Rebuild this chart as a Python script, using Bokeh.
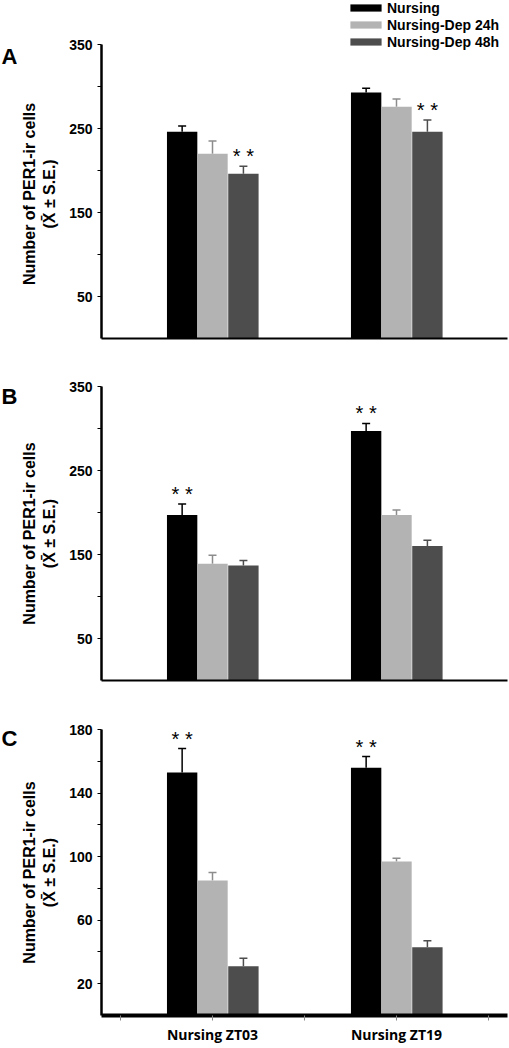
from bokeh.plotting import figure
from bokeh.models import (Range1d, FixedTicker, ColumnDataSource, Whisker, TeeHead,
                          Legend, LegendItem)
from bokeh.layouts import column, row
from bokeh.embed import file_html
from bokeh.resources import INLINE
from bokeh.core.properties import value

# ---------------- data ----------------
groups = ["Nursing ZT03", "Nursing ZT19"]
series = ["Nursing", "Nursing-Dep 24h", "Nursing-Dep 48h"]
colors = ["#000000", "#b3b3b3", "#4d4d4d"]
err_colors = ["#000000", "#8c8c8c", "#4d4d4d"]

# Panel A
a_nursing = [246, 293]
a_dep24 = [220, 276]
a_dep48 = [196, 246]
a_nursing_se = [7, 5]
a_dep24_se = [15, 9]
a_dep48_se = [9, 14]
a_stars = [(2, 0), (2, 1)]          # (series index, group index)

# Panel B
b_nursing = [197, 297]
b_dep24 = [139, 197]
b_dep48 = [137, 160]
b_nursing_se = [13, 9]
b_dep24_se = [10, 6]
b_dep48_se = [6, 7]
b_stars = [(0, 0), (0, 1)]

# Panel C
c_nursing = [153, 156]
c_dep24 = [85, 97]
c_dep48 = [31, 43]
c_nursing_se = [15, 7]
c_dep24_se = [5, 2]
c_dep48_se = [5, 4]
c_stars = [(0, 0), (0, 1)]

ab_ticks = [50, 100, 150, 200, 250, 300, 350]
ab_tick_labels = [50, 150, 250, 350]
c_ticks = [20, 40, 60, 80, 100, 120, 140, 160, 180]
c_tick_labels = [20, 60, 100, 140, 180]

ylabel_lines = ["Number of PER1-ir cells", "(X\u0304 \u00b1 S.E.)"]

# ---------------- layout constants ----------------
LW = 17            # width of the strip holding the panel letter
W = 509 - LW
LEFT = 101 - LW
RIGHT = 2
X0, X1 = -0.1033, 2.1033
BAR_W = 0.165
OFFSETS = [-0.165, 0.0, 0.168]
FONT = "Liberation Sans"
NBSP = "\u00a0"


def letter_fig(letter, H, T, Bb, dy):
    """Strip left of the y axis; its frame matches the panel frame (T..H-Bb)."""
    fh = H - T - Bb
    lf = figure(width=LW, height=H, x_range=Range1d(0, LW), y_range=Range1d(0, fh),
                x_axis_type=None, y_axis_type=None, title=None, output_backend="svg",
                toolbar_location=None, min_border_left=0, min_border_right=0,
                min_border_top=T, min_border_bottom=Bb)
    lf.outline_line_color = None
    lf.text(x=[1], y=[fh - dy], text=[letter], text_font=value(FONT), text_font_style="bold",
            text_font_size="22px", text_baseline="middle", text_align="left",
            text_color="black")
    return lf


def make_panel(vals, ses, stars, ymax, yticks, ylabels, H, T, Bb, top_pad=0, label_pad=0,
               show_x=False, show_legend=False, xaxis_w=2):
    fh = H - T - Bb
    # top_pad: extra pixels of frame above the top of the axis (room for the legend)
    ytop = ymax * fh / (fh - top_pad)
    p = figure(width=W, height=H, x_range=Range1d(X0, X1), y_range=Range1d(0, ytop),
               output_backend="svg", toolbar_location=None, title=None,
               min_border_left=LEFT, min_border_right=RIGHT,
               min_border_top=T, min_border_bottom=Bb)
    p.outline_line_color = None
    p.grid.visible = False
    p.background_fill_color = "white"
    p.border_fill_color = "white"

    gpos = [i + 0.5 for i in range(len(groups))]
    rends = []
    for i in range(len(series)):
        xs = [g + OFFSETS[i] for g in gpos]
        up = [v + s for v, s in zip(vals[i], ses[i])]
        src = ColumnDataSource(dict(x=xs, top=vals[i], upper=up))
        r = p.vbar(x="x", top="top", bottom=0, width=BAR_W, source=src,
                   fill_color=colors[i], line_color=None)
        rends.append(r)
        w = Whisker(base="x", upper="upper", lower="top", source=src, dimension="height",
                    line_color=err_colors[i], line_width=1.5,
                    upper_head=TeeHead(size=8, line_color=err_colors[i], line_width=1.5),
                    lower_head=None)
        p.add_layout(w)

    # significance stars
    sx = [gpos[g] + OFFSETS[si] for si, g in stars]
    sy = [vals[si][g] + ses[si][g] for si, g in stars]
    p.text(x=sx, y=sy, text=["* *"] * len(sx), text_align="center",
           text_baseline="alphabetic", y_offset=-10, text_font=value(FONT),
           text_font_size="20px", text_color="black")

    # y axis
    ya = p.yaxis[0]
    ya.bounds = (0, ymax)
    ya.ticker = FixedTicker(ticks=yticks)
    ya.major_label_overrides = {t: (str(t) if t in ylabels else "") for t in yticks}
    ya.major_label_text_font = FONT
    ya.major_label_text_font_style = "bold"
    ya.major_label_text_font_size = "14px"
    ya.major_label_text_color = "black"
    ya.major_label_standoff = 5
    ya.major_tick_out = 4
    ya.major_tick_in = 0
    ya.major_tick_line_width = 1
    ya.minor_tick_line_color = None
    ya.axis_line_width = 2.5
    # trailing no-break spaces keep the label centred on the visible axis when the
    # frame extends above it
    ya.axis_label = "\n".join(line + NBSP * label_pad for line in ylabel_lines)
    ya.axis_label_text_font = FONT
    ya.axis_label_text_font_style = "bold"
    ya.axis_label_text_font_size = "16px"
    ya.axis_label_text_color = "black"
    ya.axis_label_standoff = 8

    # x axis
    xa = p.xaxis[0]
    xa.minor_tick_line_color = None
    xa.axis_line_width = xaxis_w
    if show_x:
        xt = [0, 0.5, 1, 1.5, 2]
        xa.ticker = FixedTicker(ticks=xt)
        xa.major_label_overrides = {0: "", 0.5: groups[0], 1: "", 1.5: groups[1], 2: ""}
        xa.major_label_text_font = "Open Sans"
        xa.major_label_text_font_style = "bold"
        xa.major_label_text_font_size = "14px"
        xa.major_label_text_color = "black"
        xa.major_tick_out = 5
        xa.major_tick_in = 0
        xa.major_tick_line_color = "#888888"
        xa.major_label_standoff = 4
    else:
        xa.ticker = FixedTicker(ticks=[])
        xa.major_tick_line_color = None
        xa.major_label_text_font_size = "0px"

    if show_legend:
        # location = bottom-left corner of the legend, in px from the frame's bottom-left
        leg = Legend(items=[LegendItem(label=series[i], renderers=[rends[i]]) for i in range(3)],
                     location=(245, fh - 50), orientation="vertical",
                     glyph_width=39, glyph_height=9, label_height=17, spacing=0,
                     label_standoff=2, padding=0, margin=0,
                     border_line_color=None, background_fill_alpha=0,
                     label_text_font=FONT, label_text_font_style="bold",
                     label_text_font_size="14px", label_text_color="black")
        p.add_layout(leg)
    return p


HA, HB, HC = 345, 345, 356
TA, TB, TC = 0, 41, 39
BA, BB, BC = 7, 10, 24
pa = make_panel([a_nursing, a_dep24, a_dep48], [a_nursing_se, a_dep24_se, a_dep48_se], a_stars,
                350, ab_ticks, ab_tick_labels, H=HA, T=TA, Bb=BA, top_pad=44, label_pad=11,
                show_legend=True)
pb = make_panel([b_nursing, b_dep24, b_dep48], [b_nursing_se, b_dep24_se, b_dep48_se], b_stars,
                350, ab_ticks, ab_tick_labels, H=HB, T=TB, Bb=BB)
pc = make_panel([c_nursing, c_dep24, c_dep48], [c_nursing_se, c_dep24_se, c_dep48_se], c_stars,
                180, c_ticks, c_tick_labels, H=HC, T=TC, Bb=BC, show_x=True, xaxis_w=4)

layout = column(
    row(letter_fig("A", HA, TA, BA, 56), pa, spacing=0),
    row(letter_fig("B", HB, TB, BB, 10), pb, spacing=0),
    row(letter_fig("C", HC, TC, BC, 9), pc, spacing=0),
    spacing=0,
)
open("out.html", "w").write(file_html(layout, INLINE))
